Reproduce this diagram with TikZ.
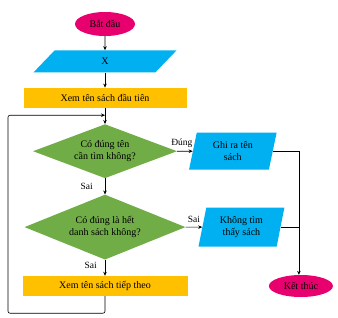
\documentclass[tikz,border=0pt]{standalone}
\usepackage{fontspec}
\setmainfont{Liberation Serif}
\usetikzlibrary{arrows.meta, positioning, shapes.geometric, calc}
\definecolor{termpink}{RGB}{232,0,110}
\definecolor{iocyan}{RGB}{0,176,240}
\definecolor{procyellow}{RGB}{255,192,0}
\definecolor{decgreen}{RGB}{112,173,71}

\begin{document}
\begin{tikzpicture}[x=1pt, y=1pt,
    every node/.style={font=\fontsize{10}{11.5}\selectfont, align=center, inner sep=0pt},
    terminal/.style={ellipse, fill=termpink, minimum width=#1, minimum height=24pt},
    io/.style={trapezium, trapezium left angle=77, trapezium right angle=103, trapezium stretches=true, fill=iocyan},
    process/.style={rectangle, fill=procyellow, minimum height=20pt},
    decision/.style={diamond, aspect=2.6, fill=decgreen},
    flow/.style={-{Stealth[length=4pt, width=3.5pt]}, semithick, color=black},
    link/.style={semithick, color=black},
    tag/.style={font=\fontsize{9.5}{10}\selectfont, inner sep=1pt}
]
\useasboundingbox (0,0) rectangle (338,-317);
\node[terminal=60pt] (start) at (105,-24) {Bắt đầu};
\node[io, below=14pt of start, minimum width=143pt, minimum height=22pt] (input) {X};
\node[process, below=15pt of input, minimum width=163pt] (first) {Xem tên sách đầu tiên};
\node[decision, below=16pt of first, minimum width=144pt, minimum height=54pt] (check) {Có đúng tên\\cần tìm không?};
\node[decision, below=16pt of check, minimum width=161pt, minimum height=65pt] (last) {Có đúng là hết\\danh sách không?};
\node[process, below=16pt of last, minimum width=165pt] (next) {Xem tên sách tiếp theo};
\node[io, right=15.5pt of check, minimum width=88pt, minimum height=37pt] (found) {Ghi ra tên\\sách};
\node[io, right=16.5pt of last, minimum width=86pt, minimum height=39pt] (notfound) {Không tìm\\thấy sách};
\node[terminal=64pt, right=81pt of next, minimum height=22pt] (stop) {Kết thúc};
\coordinate (join) at ($(first.south)!0.45!(check.north)$);
\coordinate (loopcorner) at ([xshift=-97pt]join);
\coordinate (drop) at ([xshift=-2pt]stop.north);
\draw[flow] (start) -- (input);
\draw[flow] (input) -- (first);
\draw[flow] (first) -- (check);
\draw[flow] (check) -- node[tag, left=11pt]{Sai} (last);
\draw[flow] (last) -- node[tag, left=7pt, pos=0.35]{Sai} (next);
\draw[flow] (check) -- node[tag, above=2pt, pos=0.3]{Đúng} (found);
\draw[flow] (last) -- node[tag, above=3pt]{Sai} (notfound);
\draw[flow] (found.east) -| (drop);
\draw[link] (notfound.east) -- (notfound.east -| drop);
\draw[flow, rounded corners=2pt] (next.south) -- ++(0,-17) -| (loopcorner) -- (join);
\end{tikzpicture}
\end{document}
